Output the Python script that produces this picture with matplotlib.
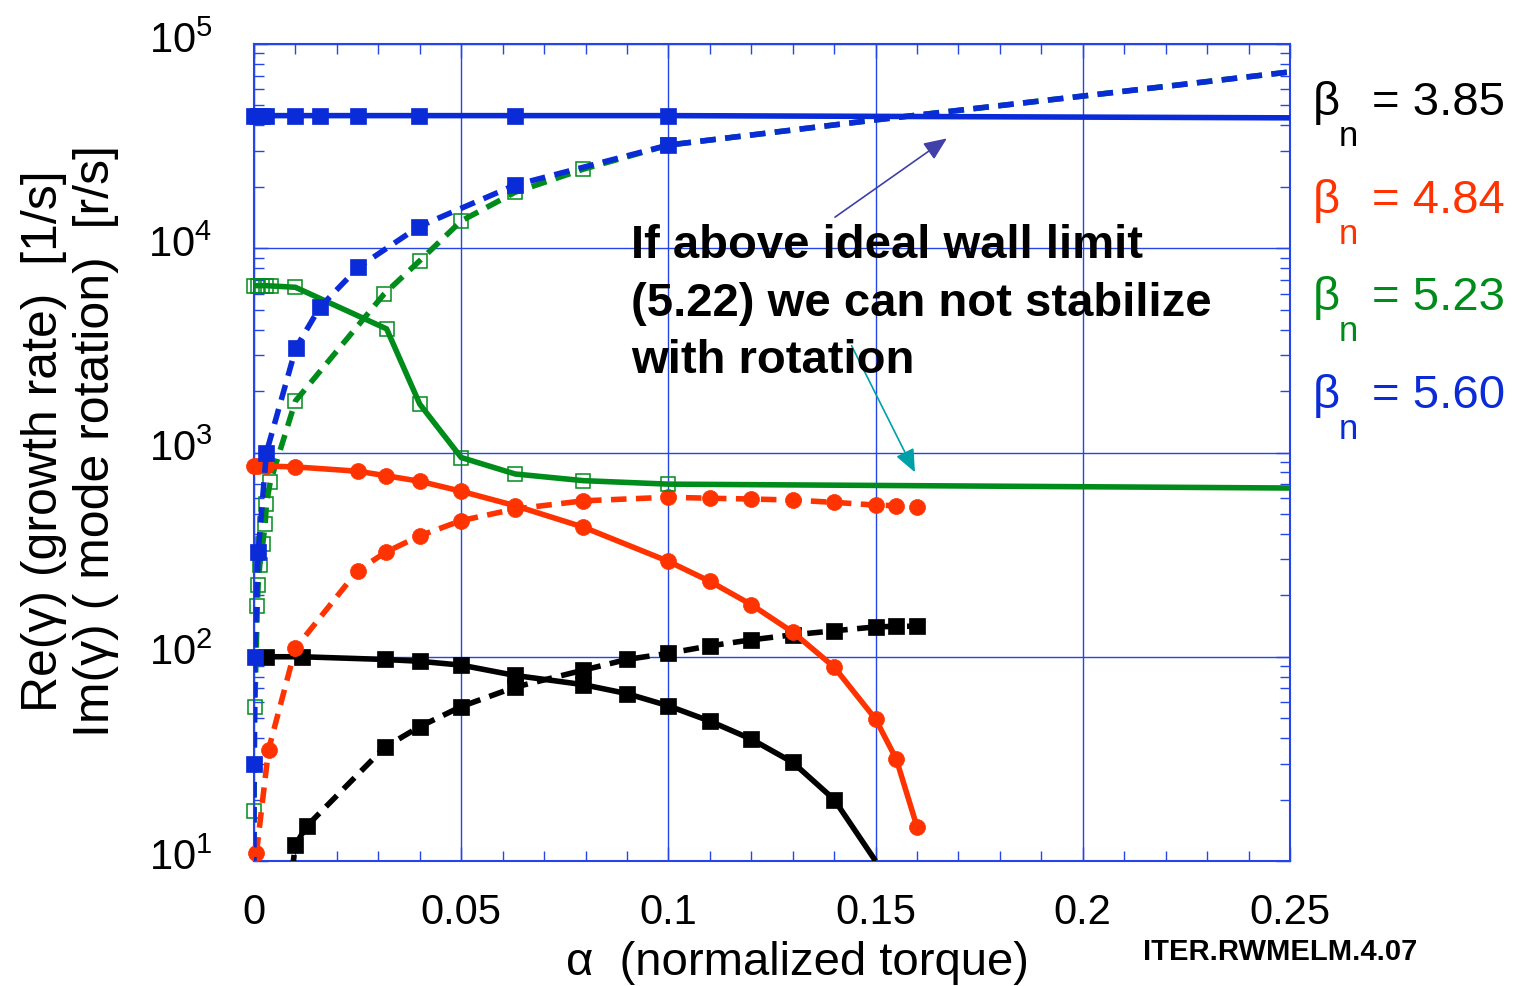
import matplotlib.pyplot as plt
import matplotlib.transforms as mtransforms
from matplotlib.ticker import MultipleLocator, LogLocator, NullFormatter, FixedLocator, FixedFormatter

plt.rcParams['font.family'] = ['Liberation Sans', 'DejaVu Sans']
plt.rcParams['mathtext.fontset'] = 'custom'
plt.rcParams['mathtext.rm'] = 'Liberation Sans'
plt.rcParams['mathtext.it'] = 'Liberation Sans:italic'
plt.rcParams['mathtext.bf'] = 'Liberation Sans:bold'

########## data: alpha (normalized torque) vs Re(gamma) / Im(gamma)
# beta_n = 3.85
a385_re = [0.003, 0.0115, 0.0315, 0.04, 0.05, 0.063, 0.0795, 0.09, 0.1, 0.11, 0.12, 0.13, 0.14, 0.15]
g385_re = [100, 100, 97, 95, 91, 81, 73, 66, 57.5, 48.4, 39.5, 30.4, 20, 10]
a385_im = [0.0092, 0.01, 0.0127, 0.0315, 0.04, 0.05, 0.063, 0.0795, 0.09, 0.1, 0.11, 0.12, 0.13, 0.14, 0.15, 0.155, 0.16]
g385_im = [9, 12, 14.8, 36, 45.5, 57, 71, 86, 97, 104, 113, 121, 128, 134, 140, 141, 141]

# beta_n = 4.84
a484_re = [0, 0.001, 0.003, 0.01, 0.025, 0.0318, 0.04, 0.05, 0.063, 0.0795, 0.1, 0.11, 0.12, 0.13, 0.14, 0.15, 0.155, 0.16]
g484_re = [860, 860, 858, 850, 810, 770, 723, 646, 549, 431, 293, 234, 180, 132, 89, 49.5, 31.5, 14.7]
a484_im = [0.0006, 0.0035, 0.01, 0.025, 0.0318, 0.04, 0.05, 0.063, 0.0795, 0.1, 0.11, 0.12, 0.13, 0.14, 0.15, 0.155, 0.16]
g484_im = [11, 35, 110, 264, 325, 391, 464, 529, 580, 604, 597, 592, 585, 570, 553, 549, 543]

# beta_n = 5.23
a523_re = [0, 0.001, 0.002, 0.003, 0.004, 0.01, 0.032, 0.04, 0.05, 0.063, 0.0795, 0.1, 0.25]
g523_re = [6560, 6560, 6560, 6560, 6540, 6440, 4030, 1725, 945, 785, 728, 700, 670]
a523_im = [0, 0, 0.0002, 0.0008, 0.001, 0.0014, 0.0021, 0.0027, 0.003, 0.0039, 0.01, 0.0314, 0.04, 0.05, 0.063, 0.0795, 0.1, 0.15, 0.2, 0.25]
g523_im = [5, 17.6, 56.6, 178, 224, 282, 356, 447, 560, 714, 1787, 5970, 8690, 13600, 18800, 24400, 32000, 42500, 55600, 73000]

# beta_n = 5.60
a560_re = [0, 0.001, 0.002, 0.003, 0.0099, 0.0159, 0.0252, 0.0398, 0.063, 0.1, 0.25]
g560_re = [44600, 44600, 44600, 44600, 44600, 44600, 44600, 44600, 44600, 44600, 43500]
a560_im = [0, 0, 0.0002, 0.001, 0.003, 0.0101, 0.0159, 0.0252, 0.0398, 0.063, 0.1, 0.15, 0.2, 0.25]
g560_im = [5, 30, 100, 325, 1000, 3250, 5140, 8070, 12770, 20400, 32000, 42500, 55600, 73000]

beta_labels = ['3.85', '4.84', '5.23', '5.60']
xticks = [0, 0.05, 0.1, 0.15, 0.2, 0.25]
xticklabels = ['0', '0.05', '0.1', '0.15', '0.2', '0.25']

BLACK = 'black'
RED = '#FF3300'
GREEN = '#008C1A'
BLUE = '#0A2BD8'
AXBLUE = '#2545E8'

W, H = 1522, 987
fx = lambda px: px / W
fy = lambda py: 1 - py / H

fig = plt.figure(figsize=(W / 100, H / 100), dpi=100)
ax = fig.add_axes([fx(254), fy(862), (1290 - 254) / W, (862 - 45) / H])

def curve(a, g, color, dashed, marker, mk_every, z, open_mk=False):
    ln, = ax.plot(a, g, color=color, lw=4.0, zorder=z, solid_capstyle='butt')
    if dashed:
        ln.set_dashes([2.8, 1.7])
    if open_mk:
        ax.plot(a, g, ls='none', marker=marker, ms=10.5, mfc='none', mec=color, mew=1.1,
                markevery=mk_every, zorder=z, clip_on=False)
    else:
        ax.plot(a, g, ls='none', marker=marker, ms=11.5 if marker == 's' else 11.5, mfc=color,
                mec=color, mew=0.5, markevery=mk_every, zorder=z, clip_on=False)

curve(a523_im, g523_im, GREEN, True, 's', slice(1, 17), 2, open_mk=True)
curve(a385_im, g385_im, BLACK, True, 's', slice(1, None), 3)
curve(a385_re, g385_re, BLACK, False, 's', slice(0, 13), 3)
curve(a484_im, g484_im, RED, True, 'o', slice(0, None), 4)
curve(a484_re, g484_re, RED, False, 'o', slice(0, None), 4)
curve(a523_re, g523_re, GREEN, False, 's', slice(0, 12), 5, open_mk=True)
curve(a560_im, g560_im, BLUE, True, 's', slice(1, 11), 6)
curve(a560_re, g560_re, BLUE, False, 's', slice(0, 10), 7)

ax.set_yscale('log')
ax.set_xlim(0, 0.25)
ax.set_ylim(10, 1e5)
ax.xaxis.set_major_locator(FixedLocator(xticks))
ax.xaxis.set_major_formatter(FixedFormatter(xticklabels))
ax.xaxis.set_minor_locator(MultipleLocator(0.01))
ax.yaxis.set_major_locator(LogLocator(base=10, numticks=10))
ax.yaxis.set_minor_locator(LogLocator(base=10, subs=range(2, 10), numticks=20))
ax.yaxis.set_minor_formatter(NullFormatter())

ax.grid(True, which='major', color=AXBLUE, lw=1.0, zorder=1)
ax.set_axisbelow(True)
for s in ax.spines.values():
    s.set_color(AXBLUE)
    s.set_linewidth(1.5)
ax.tick_params(which='both', direction='in', top=True, right=True, color=AXBLUE, width=1)
ax.tick_params(which='major', length=10)
ax.tick_params(which='minor', length=7)
ax.tick_params(axis='x', which='major', labelsize=30, pad=22)
ax.tick_params(axis='y', which='major', labelsize=30, pad=30)

# lift y tick labels a little, as in the original
shift = mtransforms.ScaledTranslation(0, 8 / 100, fig.dpi_scale_trans)
for lab in ax.get_yticklabels():
    lab.set_transform(lab.get_transform() + shift)

ax.set_xlabel('α  (normalized torque)', fontsize=34)
ax.xaxis.set_label_coords((797 - 254) / 1036, (862 - 941) / 817)

# two-line y label
fig.text(fx(57), fy(441), 'Re(γ) (growth rate)  [1/s]', fontsize=36, rotation=90,
         rotation_mode='anchor', ha='center', va='baseline')
fig.text(fx(109), fy(441), 'Im(γ) ( mode rotation)  [r/s]', fontsize=36, rotation=90,
         rotation_mode='anchor', ha='center', va='baseline')

# beta_n labels at the right
colors = [BLACK, RED, GREEN, BLUE]
for i, (lab, c) in enumerate(zip(beta_labels, colors)):
    yb = 115 + i * 97.7
    fig.text(fx(1313), fy(yb), 'β', fontsize=34, color=c, va='baseline')
    fig.text(fx(1339), fy(yb + 31), 'n', fontsize=25, color=c, va='baseline')
    fig.text(fx(1372), fy(yb), '= ' + lab, fontsize=34, color=c, va='baseline')

# annotation
note = ['If above ideal wall limit', '(5.22) we can not stabilize', 'with rotation']
for i, t in enumerate(note):
    fig.text(fx(631), fy(258 + i * 57.5), t, fontsize=34, fontweight='bold', va='baseline')

ax.annotate('', xy=(0.1672, 34500), xytext=(0.1402, 14200),
            arrowprops=dict(arrowstyle='-|>,head_length=0.7,head_width=0.3', mutation_scale=20,
                            color='#4040A8', lw=1.2, shrinkA=0, shrinkB=0), zorder=9)
ax.annotate('', xy=(0.1595, 800), xytext=(0.1442, 3335),
            arrowprops=dict(arrowstyle='-|>,head_length=0.7,head_width=0.3', mutation_scale=20,
                            color='#00A0A8', lw=1.2, shrinkA=0, shrinkB=0), zorder=9)

fig.text(fx(1143), fy(960), 'ITER.RWMELM.4.07', fontsize=21, fontweight='bold', va='baseline')

fig.savefig('out.png', dpi=100)
